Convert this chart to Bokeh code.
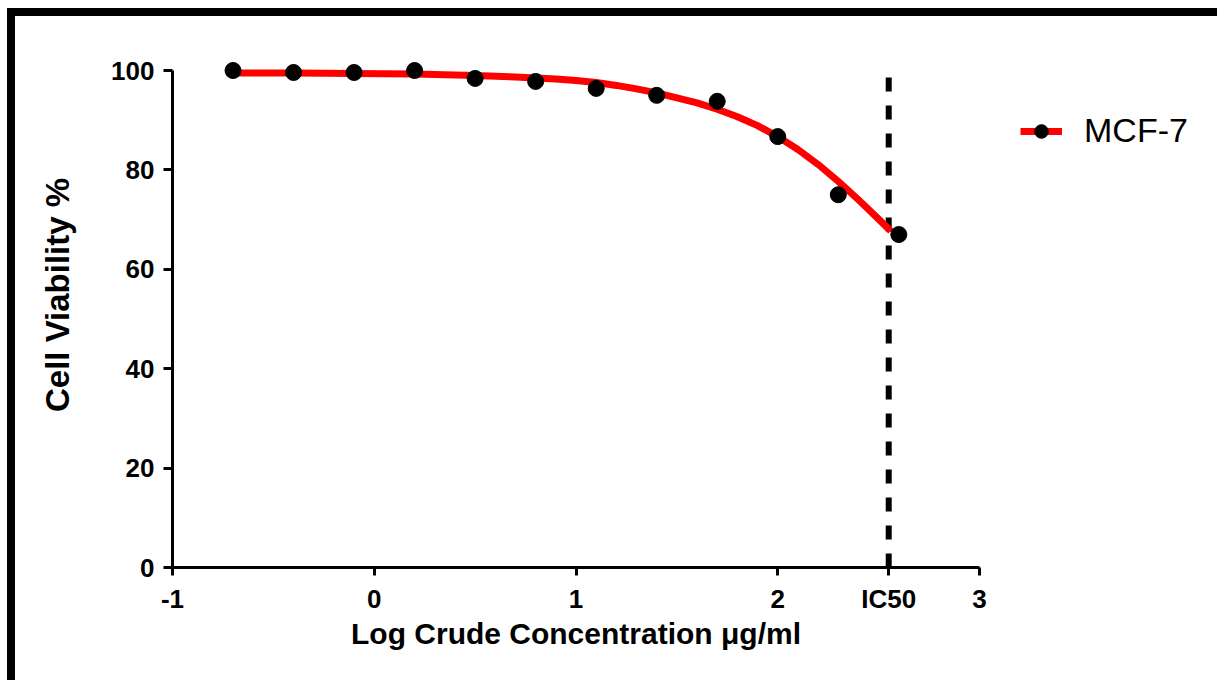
from bokeh.plotting import figure
from bokeh.models import Range1d, FixedTicker, Legend, LegendItem, ColumnDataSource, Div
from bokeh.layouts import column, row
from bokeh.embed import file_html
from bokeh.resources import INLINE

# ---- data ----
log_conc = [-0.7, -0.4, -0.1, 0.2, 0.5, 0.8, 1.1, 1.4, 1.7, 2.0, 2.3, 2.6]
viability = [100.0, 99.6, 99.6, 100.0, 98.4, 97.8, 96.4, 95.0, 93.8, 86.7, 75.0, 67.0]

fit_x = [-0.7, -0.4, -0.1, 0.2, 0.5, 0.7, 0.9, 1.0, 1.1, 1.2, 1.3, 1.4, 1.5, 1.6,
         1.7, 1.8, 1.9, 2.0, 2.1, 2.2, 2.3, 2.4, 2.5, 2.56]
fit_y = [99.5, 99.5, 99.4, 99.3, 99.0, 98.7, 98.3, 98.0, 97.6, 97.0, 96.3, 95.5, 94.5, 93.5,
         92.2, 90.7, 88.9, 86.7, 84.1, 81.1, 77.7, 74.0, 70.1, 67.7]

ic50 = 2.55
x_ticks = [-1, 0, 1, 2, ic50, 3]
x_tick_labels = ["-1", "0", "1", "2", "IC50", "3"]
y_ticks = [0, 20, 40, 60, 80, 100]
series_name = "MCF-7"

FONT = "Liberation Sans"

p = figure(
    frame_width=807, frame_height=545,
    min_border_left=157, min_border_top=6, min_border_right=238, min_border_bottom=113,
    x_range=Range1d(-1, 3), y_range=Range1d(0, 109.66),
    output_backend="svg", toolbar_location=None,
)
p.outline_line_color = None
p.grid.visible = False
p.background_fill_color = "white"
p.border_fill_color = "white"

# IC50 dashed line
ic_src = ColumnDataSource(dict(x0=[ic50], y0=[0], x1=[ic50], y1=[100]))
p.segment(x0="x0", y0="y0", x1="x1", y1="y1", source=ic_src,
          line_color="black", line_width=6, line_dash="14 14")

# fitted curve
fit_src = ColumnDataSource(dict(x=fit_x, y=fit_y))
r_line = p.line("x", "y", source=fit_src, line_color="#ff0000", line_width=7,
                line_join="round")

# data points
pt_src = ColumnDataSource(dict(x=log_conc, y=viability))
r_pts = p.scatter("x", "y", source=pt_src, size=16, fill_color="black", line_color="black")

# axes
xa = p.xaxis[0]
xa.ticker = FixedTicker(ticks=x_ticks)
xa.major_label_overrides = {t: lab for t, lab in zip(x_ticks, x_tick_labels)}
xa.minor_tick_line_color = None
xa.axis_line_width = 3
xa.major_tick_line_width = 3
xa.major_tick_out = 8
xa.major_tick_in = 0
xa.major_label_standoff = 8
xa.major_label_text_font = FONT
xa.major_label_text_font_style = "bold"
xa.major_label_text_font_size = "26px"
xa.major_label_text_color = "black"
xa.axis_label = "Log Crude Concentration \u03bcg/ml"
xa.axis_label_text_font = FONT
xa.axis_label_text_font_style = "bold"
xa.axis_label_text_font_size = "30px"
xa.axis_label_text_color = "black"
xa.axis_label_standoff = 0

ya = p.yaxis[0]
ya.ticker = FixedTicker(ticks=y_ticks)
ya.bounds = (0, 100)
ya.minor_tick_line_color = None
ya.axis_line_width = 3
ya.major_tick_line_width = 3
ya.major_tick_out = 9
ya.major_tick_in = 0
ya.major_label_standoff = 9
ya.major_label_text_font = FONT
ya.major_label_text_font_style = "bold"
ya.major_label_text_font_size = "26px"
ya.major_label_text_color = "black"
ya.axis_label = "Cell Viability %"
ya.axis_label_text_font = FONT
ya.axis_label_text_font_style = "bold"
ya.axis_label_text_font_size = "33px"
ya.axis_label_text_color = "black"
ya.axis_label_standoff = 32

legend = Legend(items=[LegendItem(label=series_name, renderers=[r_line, r_pts])],
                location=(41, 417))
legend.border_line_color = None
legend.background_fill_alpha = 0
legend.padding = 0
legend.margin = 0
legend.glyph_width = 42
legend.glyph_height = 34
legend.label_height = 34
legend.label_standoff = 22
legend.label_text_font = FONT
legend.label_text_font_size = "34px"
legend.label_text_color = "black"
p.add_layout(legend, "right")

# black frame of the picture (top and left bands)
top_bar = Div(text="", width=1210, height=8, margin=(8, 0, 0, 7),
              styles={"background-color": "black"})
left_bar = Div(text="", width=8, height=664, margin=(0, 0, 0, 7),
               styles={"background-color": "black"})
layout = column(top_bar, row(left_bar, p, spacing=0), spacing=0)

open("out.html", "w").write(file_html(layout, INLINE))
